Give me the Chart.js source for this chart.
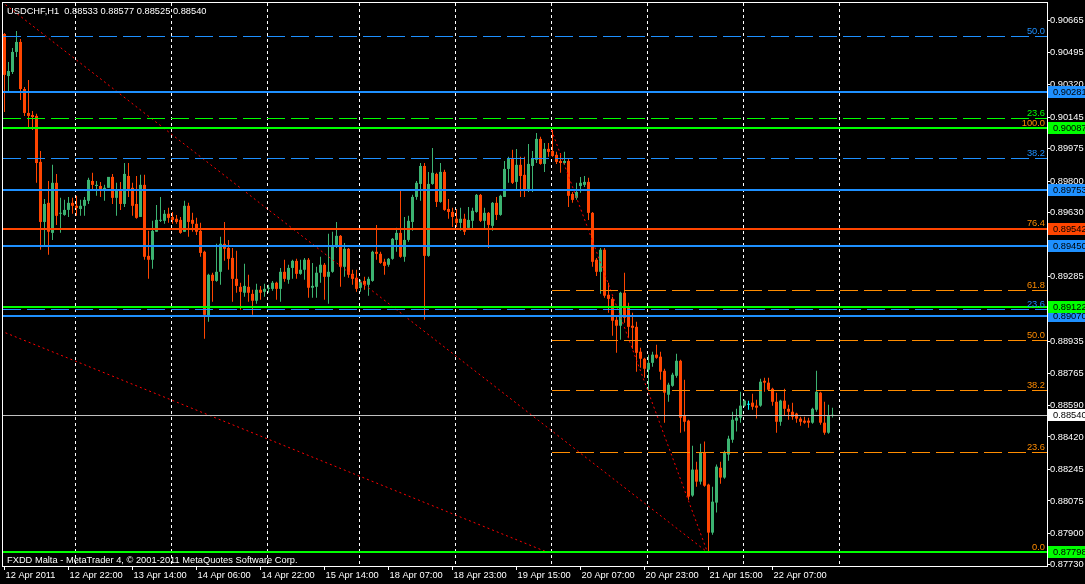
<!DOCTYPE html>
<html>
<head>
<meta charset="utf-8">
<script src="https://cdn.jsdelivr.net/npm/chart.js@4.4.1/dist/chart.umd.min.js"></script>
<style>
  html, body { margin: 0; padding: 0; background: #000; }
  canvas { display: block; }
</style>
</head>
<body>
<canvas id="chart" width="1085" height="584"></canvas>
<script>
// USDCHF H1 bars, 12 Apr 2011 06:00 .. 22 Apr 2011
const symbol = 'USDCHF,H1';
const opens = [
  0.90594,0.90367,0.90389,0.90497,0.90551,0.90297,0.90168,0.90157,0.90152,0.89904,
  0.89580,0.89683,0.89521,0.89791,0.89624,0.89618,0.89645,0.89683,0.89667,0.89650,
  0.89667,0.89694,0.89801,0.89774,0.89774,0.89758,0.89764,0.89823,0.89710,0.89753,
  0.89677,0.89828,0.89764,0.89677,0.89607,0.89780,0.89397,0.89376,0.89527,0.89586,
  0.89586,0.89624,0.89607,0.89597,0.89591,0.89527,0.89667,0.89591,0.89570,0.89532,
  0.89419,0.89074,0.89295,0.89262,0.89311,0.89462,0.89440,0.89386,0.89273,0.89230,
  0.89198,0.89230,0.89192,0.89155,0.89214,0.89203,0.89219,0.89219,0.89252,0.89219,
  0.89311,0.89268,0.89332,0.89370,0.89300,0.89322,0.89376,0.89225,0.89230,0.89306,
  0.89349,0.89284,0.89311,0.89446,0.89505,0.89338,0.89435,0.89300,0.89279,0.89225,
  0.89262,0.89241,0.89262,0.89419,0.89408,0.89365,0.89349,0.89381,0.89483,0.89521,
  0.89392,0.89483,0.89580,0.89715,0.89785,0.89882,0.89397,0.89785,0.89839,0.89688,
  0.89850,0.89650,0.89634,0.89597,0.89575,0.89597,0.89548,0.89586,0.89634,0.89726,
  0.89586,0.89629,0.89559,0.89683,0.89618,0.89715,0.89866,0.89920,0.89796,0.89888,
  0.89834,0.89753,0.89882,0.89915,0.90028,0.89893,0.89974,0.89963,0.89942,0.89909,
  0.89898,0.89909,0.89731,0.89710,0.89774,0.89780,0.89796,0.89629,0.89376,0.89311,
  0.89430,0.89187,0.89165,0.89052,0.89020,0.89198,0.89122,0.89020,0.89014,0.88880,
  0.88842,0.88783,0.88820,0.88864,0.88853,0.88777,0.88648,0.88696,0.88750,0.88831,
  0.88535,0.88508,0.88104,0.88244,0.88179,0.88335,0.88163,0.87904,0.88066,0.88254,
  0.88201,0.88325,0.88405,0.88508,0.88524,0.88589,0.88594,0.88605,0.88589,0.88589,
  0.88723,0.88713,0.88680,0.88610,0.88502,0.88616,0.88572,0.88556,0.88546,0.88519,
  0.88508,0.88508,0.88497,0.88567,0.88659,0.88497,0.88443,0.88533
];
const highs = [
  0.90599,0.90443,0.90518,0.90610,0.90567,0.90308,0.90346,0.90179,0.90163,0.89963,
  0.89704,0.89801,0.89888,0.89839,0.89710,0.89699,0.89715,0.89710,0.89721,0.89699,
  0.89715,0.89818,0.89845,0.89801,0.89796,0.89780,0.89823,0.89839,0.89791,0.89796,
  0.89898,0.89898,0.89791,0.89828,0.89834,0.89834,0.89532,0.89586,0.89672,0.89715,
  0.89645,0.89656,0.89634,0.89618,0.89607,0.89694,0.89683,0.89629,0.89602,0.89575,
  0.89424,0.89300,0.89306,0.89462,0.89500,0.89580,0.89483,0.89440,0.89424,0.89252,
  0.89354,0.89295,0.89214,0.89246,0.89235,0.89246,0.89241,0.89262,0.89257,0.89332,
  0.89376,0.89349,0.89376,0.89381,0.89376,0.89386,0.89386,0.89359,0.89338,0.89392,
  0.89359,0.89516,0.89527,0.89580,0.89510,0.89467,0.89440,0.89322,0.89322,0.89268,
  0.89284,0.89284,0.89424,0.89564,0.89419,0.89381,0.89386,0.89494,0.89548,0.89753,
  0.89607,0.89613,0.89726,0.89801,0.89898,0.89898,0.89850,0.89979,0.89845,0.89898,
  0.89861,0.89704,0.89656,0.89650,0.89656,0.89624,0.89661,0.89656,0.89731,0.89731,
  0.89656,0.89634,0.89688,0.89715,0.89726,0.89909,0.89931,0.89969,0.89974,0.89931,
  0.89931,0.90001,0.89963,0.90060,0.90039,0.90006,0.90006,0.90076,0.89958,0.89952,
  0.89958,0.89920,0.89742,0.89791,0.89823,0.89828,0.89818,0.89634,0.89386,0.89440,
  0.89440,0.89252,0.89176,0.89074,0.89203,0.89306,0.89144,0.89090,0.89041,0.88901,
  0.88847,0.88864,0.88880,0.88917,0.88880,0.88788,0.88713,0.88767,0.88869,0.88837,
  0.88729,0.88513,0.88373,0.88287,0.88384,0.88395,0.88168,0.88152,0.88271,0.88287,
  0.88346,0.88427,0.88556,0.88572,0.88664,0.88621,0.88616,0.88653,0.88621,0.88734,
  0.88740,0.88740,0.88686,0.88659,0.88621,0.88680,0.88594,0.88605,0.88551,0.88529,
  0.88529,0.88524,0.88578,0.88777,0.88664,0.88610,0.88594,0.88577
];
const lows = [
  0.90173,0.90276,0.90378,0.90470,0.90238,0.90152,0.90092,0.90076,0.89791,0.89430,
  0.89456,0.89403,0.89483,0.89564,0.89521,0.89613,0.89607,0.89624,0.89613,0.89613,
  0.89613,0.89677,0.89753,0.89721,0.89715,0.89694,0.89764,0.89677,0.89613,0.89645,
  0.89661,0.89715,0.89613,0.89597,0.89607,0.89376,0.89273,0.89327,0.89527,0.89580,
  0.89570,0.89575,0.89570,0.89570,0.89516,0.89527,0.89500,0.89527,0.89510,0.89392,
  0.88950,0.89041,0.89149,0.89257,0.89241,0.89370,0.89322,0.89149,0.89198,0.89106,
  0.89176,0.89149,0.89079,0.89138,0.89160,0.89176,0.89198,0.89209,0.89160,0.89149,
  0.89257,0.89246,0.89273,0.89273,0.89295,0.89268,0.89171,0.89171,0.89171,0.89252,
  0.89160,0.89138,0.89306,0.89440,0.89230,0.89284,0.89279,0.89241,0.89203,0.89203,
  0.89214,0.89182,0.89257,0.89376,0.89354,0.89295,0.89338,0.89376,0.89419,0.89387,
  0.89365,0.89473,0.89532,0.89699,0.89694,0.89052,0.89392,0.89780,0.89661,0.89683,
  0.89640,0.89597,0.89553,0.89553,0.89532,0.89510,0.89543,0.89537,0.89629,0.89580,
  0.89537,0.89440,0.89532,0.89591,0.89613,0.89715,0.89791,0.89785,0.89748,0.89715,
  0.89715,0.89742,0.89742,0.89898,0.89888,0.89850,0.89931,0.89931,0.89893,0.89845,
  0.89888,0.89661,0.89683,0.89699,0.89737,0.89769,0.89591,0.89338,0.89289,0.89192,
  0.89171,0.89090,0.88966,0.88874,0.88944,0.89036,0.88955,0.88896,0.88772,0.88793,
  0.88740,0.88675,0.88799,0.88842,0.88729,0.88497,0.88610,0.88691,0.88740,0.88443,
  0.88449,0.88082,0.88098,0.88152,0.88163,0.88152,0.87798,0.87893,0.88012,0.88168,
  0.88195,0.88292,0.88389,0.88449,0.88497,0.88583,0.88567,0.88567,0.88519,0.88583,
  0.88664,0.88670,0.88589,0.88443,0.88481,0.88535,0.88513,0.88513,0.88497,0.88481,
  0.88492,0.88470,0.88492,0.88556,0.88486,0.88432,0.88438,0.88525
];
const closes = [
  0.90373,0.90394,0.90497,0.90551,0.90297,0.90168,0.90152,0.90146,0.89898,0.89580,
  0.89677,0.89527,0.89791,0.89613,0.89629,0.89645,0.89683,0.89667,0.89656,0.89667,
  0.89699,0.89807,0.89780,0.89780,0.89758,0.89764,0.89823,0.89710,0.89753,0.89677,
  0.89839,0.89758,0.89667,0.89602,0.89780,0.89392,0.89376,0.89532,0.89591,0.89591,
  0.89624,0.89602,0.89591,0.89580,0.89521,0.89667,0.89580,0.89570,0.89527,0.89413,
  0.89079,0.89295,0.89262,0.89311,0.89462,0.89435,0.89381,0.89273,0.89235,0.89203,
  0.89235,0.89198,0.89155,0.89214,0.89198,0.89219,0.89225,0.89252,0.89219,0.89311,
  0.89273,0.89332,0.89370,0.89300,0.89322,0.89376,0.89225,0.89235,0.89306,0.89349,
  0.89284,0.89311,0.89446,0.89505,0.89338,0.89435,0.89295,0.89273,0.89219,0.89257,
  0.89241,0.89273,0.89419,0.89408,0.89359,0.89343,0.89381,0.89489,0.89521,0.89392,
  0.89483,0.89586,0.89715,0.89791,0.89882,0.89397,0.89785,0.89845,0.89688,0.89850,
  0.89645,0.89634,0.89607,0.89575,0.89597,0.89527,0.89591,0.89640,0.89726,0.89586,
  0.89629,0.89564,0.89683,0.89618,0.89721,0.89866,0.89920,0.89791,0.89888,0.89828,
  0.89753,0.89893,0.89920,0.90028,0.89893,0.89974,0.89958,0.89936,0.89904,0.89898,
  0.89909,0.89721,0.89699,0.89742,0.89791,0.89796,0.89629,0.89365,0.89311,0.89430,
  0.89182,0.89165,0.89047,0.89020,0.89198,0.89063,0.89014,0.89009,0.88874,0.88842,
  0.88788,0.88820,0.88864,0.88847,0.88772,0.88659,0.88702,0.88756,0.88831,0.88524,
  0.88502,0.88098,0.88244,0.88179,0.88335,0.88157,0.87904,0.88071,0.88260,0.88201,
  0.88335,0.88411,0.88513,0.88524,0.88589,0.88616,0.88594,0.88583,0.88578,0.88718,
  0.88713,0.88675,0.88610,0.88502,0.88616,0.88572,0.88556,0.88529,0.88519,0.88502,
  0.88497,0.88497,0.88572,0.88664,0.88497,0.88443,0.88535,0.88540
];

// time axis labels (one every 16 bars) and day separators
const xTickBars = [0, 16, 32, 48, 64, 80, 96, 112, 128, 144, 160, 176, 192];
const xLabels = ['12 Apr 2011', '12 Apr 22:00', '13 Apr 14:00', '14 Apr 06:00', '14 Apr 22:00',
  '15 Apr 14:00', '18 Apr 07:00', '18 Apr 23:00', '19 Apr 15:00', '20 Apr 07:00',
  '20 Apr 23:00', '21 Apr 15:00', '22 Apr 07:00'];
const gridBars = [17.75, 41.75, 65.75, 88.75, 112.75, 136.75, 160.75, 184.75, 208.75];

// price axis ticks
const priceTicks = [0.90665, 0.90495, 0.90320, 0.90145, 0.89975, 0.89800, 0.89630, 0.89455, 0.89285,
  0.89110, 0.88935, 0.88765, 0.88590, 0.88420, 0.88245, 0.88075, 0.87900, 0.87730];

// horizontal lines
const blueLines = [0.90281, 0.89753, 0.89450, 0.89070];
const greenLines = [0.90087, 0.89122, 0.87798];
const redLines = [0.89542];
const bidLine = 0.88540;

// fibonacci objects
const orangeFib = { low: 0.87798, high: 0.90087, startBar: 136.75, shown: [0, 23.6, 38.2, 50.0, 61.8, 76.4, 100.0] };
const blueFib = { low: 0.87798, high: 0.93370, shown: [23.6, 38.2, 50.0] };
const greenFib = { level: 23.6, price: 0.90141 };

// trend lines [bar, price]
const trendA = [[0.25, 0.90752], [175.75, 0.87798]];
const trendB = [[0.25, 0.88982], [135.75, 0.87798]];
const trendC = [[136.75, 0.90076], [175.75, 0.87798]];

const BLUE = '#1e90ff', LIME = '#00ff00', ORANGERED = '#ff4500', ORANGE = '#ff8c00';
const BULL = '#3cb371', BEAR = '#ff4500', DOJI = '#00ffff';
const FAMILY = '"Liberation Sans", Arial, sans-serif';
const FONT = '9.3px ' + FAMILY;

const candleColors = opens.map((o, i) => closes[i] > o ? BULL : (closes[i] < o ? BEAR : DOJI));
const fibPrice = (f, lvl) => f.low + (f.high - f.low) * lvl / 100;
const fmt = v => v.toFixed(5);

const mtOverlay = {
  id: 'mtOverlay',
  beforeDraw(chart) {
    const c = chart.ctx;
    c.save();
    c.fillStyle = '#000';
    c.fillRect(0, 0, chart.width, chart.height);
    c.restore();
  },
  beforeDatasetsDraw(chart) {
    const c = chart.ctx, a = chart.chartArea, xs = chart.scales.x;
    c.save();
    c.strokeStyle = '#fff';
    c.lineWidth = 1;
    c.setLineDash([3, 3]);
    gridBars.forEach(b => {
      const x = Math.floor(xs.getPixelForValue(b)) + 0.5;
      if (x > a.right) return;
      c.beginPath(); c.moveTo(x, a.top); c.lineTo(x, a.bottom); c.stroke();
    });
    c.restore();
  },
  afterDatasetsDraw(chart) {
    const c = chart.ctx, a = chart.chartArea, ys = chart.scales.y, xs = chart.scales.x;
    const py = p => Math.round(ys.getPixelForValue(p));
    c.save();
    c.beginPath(); c.rect(a.left, a.top, a.right - a.left, a.bottom - a.top); c.clip();

    const dashed = (p, x0, color) => {
      const y = py(p) + 0.5;
      c.strokeStyle = color; c.lineWidth = 1; c.setLineDash([18, 6]);
      c.beginPath(); c.moveTo(x0, y); c.lineTo(a.right, y); c.stroke();
    };
    const solid = (p, color, w) => {
      c.fillStyle = color;
      c.fillRect(a.left, py(p) - (w > 1 ? 1 : 0), a.right - a.left, w);
    };

    const ox = Math.round(xs.getPixelForValue(orangeFib.startBar));
    orangeFib.shown.forEach(l => dashed(fibPrice(orangeFib, l), ox, ORANGE));
    blueFib.shown.forEach(l => dashed(fibPrice(blueFib, l), a.left, BLUE));
    dashed(greenFib.price, a.left, LIME);
    c.setLineDash([]);

    solid(bidLine, '#c0c0c0', 1);
    blueLines.forEach(p => solid(p, BLUE, 2));
    redLines.forEach(p => solid(p, ORANGERED, 2));
    greenLines.forEach(p => solid(p, LIME, 2));

    // level captions
    c.font = FONT;
    c.textAlign = 'right';
    c.textBaseline = 'alphabetic';
    const cap = (txt, p, color) => { c.fillStyle = color; c.fillText(txt, a.right - 2, py(p) - 2); };
    orangeFib.shown.forEach(l => cap(l.toFixed(1), fibPrice(orangeFib, l), ORANGE));
    blueFib.shown.forEach(l => cap(l.toFixed(1), fibPrice(blueFib, l), BLUE));
    cap(greenFib.level.toFixed(1), greenFib.price, LIME);
    c.restore();
  },
  afterDraw(chart) {
    const c = chart.ctx, a = chart.chartArea, ys = chart.scales.y;
    c.save();
    c.strokeStyle = '#fff';
    c.lineWidth = 1;
    c.strokeRect(a.left - 0.5, a.top - 0.5, a.right - a.left + 1, a.bottom - a.top + 1);

    // price boxes on the axis
    const marks = [];
    blueLines.forEach(p => marks.push([p, BLUE]));
    greenLines.forEach(p => marks.push([p, LIME]));
    redLines.forEach(p => marks.push([p, ORANGERED]));
    marks.push([bidLine, '#fff']);
    c.font = FONT;
    c.textAlign = 'left';
    c.textBaseline = 'middle';
    marks.forEach(([p, col]) => {
      const y = Math.round(ys.getPixelForValue(p));
      c.fillStyle = col;
      c.fillRect(a.right + 1, y - 6, chart.width - a.right - 1, 12);
      c.fillStyle = '#000';
      c.fillText(fmt(p), a.right + 6, y);
    });

    // header and footer texts
    const last = opens.length - 1;
    c.fillStyle = '#fff';
    c.textBaseline = 'alphabetic';
    c.fillText(symbol + '  ' + [opens[last], highs[last], lows[last], closes[last]].map(fmt).join(' '), 7, 14);
    c.fillText('FXDD Malta - MetaTrader 4, \u00a9 2001-2011 MetaQuotes Software Corp.', 7, 563);
    c.restore();
  }
};

const trendSet = pts => ({
  type: 'line',
  data: pts.map(([x, y]) => ({ x, y })),
  borderColor: '#ff0000',
  borderWidth: 1,
  borderDash: [2, 3],
  pointRadius: 0,
  order: 0
});

new Chart(document.getElementById('chart'), {
  type: 'bar',
  data: {
    datasets: [
      trendSet(trendA),
      trendSet(trendB),
      trendSet(trendC),
      {
        label: 'body',
        data: opens.map((o, i) => ({ x: i, y: [o, closes[i]] })),
        backgroundColor: candleColors,
        maxBarThickness: 3, barPercentage: 1, categoryPercentage: 1,
        minBarLength: 1, grouped: false, inflateAmount: 0, borderWidth: 0,
        order: 1
      },
      {
        label: 'wick',
        data: lows.map((l, i) => ({ x: i, y: [l, highs[i]] })),
        backgroundColor: candleColors,
        maxBarThickness: 1, barPercentage: 1, categoryPercentage: 1,
        grouped: false, inflateAmount: 0, borderWidth: 0,
        order: 2
      }
    ]
  },
  options: {
    responsive: false,
    animation: false,
    devicePixelRatio: 1,
    events: [],
    layout: { padding: { left: 3, top: 3, right: 0, bottom: 0 }, autoPadding: false },
    plugins: { legend: { display: false }, tooltip: { enabled: false } },
    scales: {
      x: {
        type: 'linear',
        min: -0.375,
        max: 260.625,
        offset: false,
        afterBuildTicks: s => { s.ticks = xTickBars.map(v => ({ value: v })); },
        afterFit: s => { s.height = 18; s.paddingLeft = 0; s.paddingRight = 0; },
        ticks: {
          callback: (v, i) => xLabels[i],
          color: '#fff', font: { family: FAMILY, size: 9.3 },
          align: 'start', labelOffset: 1, padding: 0,
          maxRotation: 0, minRotation: 0, autoSkip: false
        },
        grid: { drawOnChartArea: false, offset: false, tickLength: 4, color: '#fff' },
        border: { color: '#fff', width: 1 }
      },
      y: {
        type: 'linear',
        position: 'right',
        min: 0.87724,
        max: 0.90761,
        afterBuildTicks: s => { s.ticks = priceTicks.map(v => ({ value: v })); },
        afterFit: s => { s.width = 38; s.paddingTop = 0; s.paddingBottom = 0; },
        ticks: {
          callback: v => fmt(v),
          color: '#fff', font: { family: FAMILY, size: 9.3 },
          padding: 0, autoSkip: false
        },
        grid: { drawOnChartArea: false, tickLength: 3, color: '#fff' },
        border: { color: '#fff', width: 1 }
      }
    }
  },
  plugins: [mtOverlay]
});
</script>
</body>
</html>
